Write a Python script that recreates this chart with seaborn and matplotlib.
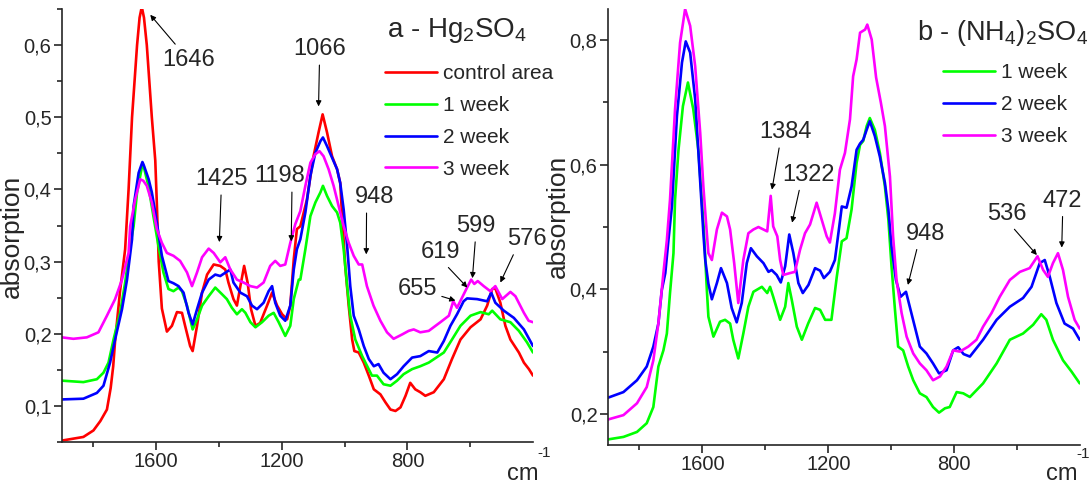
import matplotlib
matplotlib.use('Agg')
import pandas as pd
import seaborn as sns
import matplotlib.pyplot as plt
from matplotlib.ticker import FixedLocator, FuncFormatter

# ---- data (wavenumber cm-1, absorption) ----
a_control = [
    (1900, .052), (1832, .057), (1800, .066), (1778, .079), (1757, .095), (1745, .125),
    (1737, .155), (1731, .19), (1715, .26), (1699, .317), (1688, .40), (1677, .50),
    (1661, .60), (1653, .638), (1646, .653), (1639, .638), (1630, .60), (1614, .50),
    (1603, .44), (1598, .38), (1592, .30), (1582, .235), (1566, .203), (1550, .211),
    (1534, .23), (1518, .229), (1508, .211), (1492, .183), (1484, .176), (1470, .211),
    (1454, .257), (1438, .282), (1417, .296), (1396, .294), (1380, .289), (1370, .271),
    (1354, .248), (1343, .239), (1332, .266), (1320, .294), (1309, .271), (1298, .234),
    (1284, .211), (1269, .215), (1247, .239), (1231, .257), (1215, .239), (1199, .227),
    (1183, .22), (1173, .239), (1162, .303), (1152, .345), (1141, .349), (1120, .386),
    (1099, .446), (1083, .479), (1070, .504), (1056, .479), (1040, .446), (1024, .428),
    (1014, .409), (1008, .363), (998, .294), (987, .239), (976, .192), (969, .176),
    (955, .174), (939, .16), (923, .142), (907, .123), (886, .116), (870, .105),
    (854, .095), (838, .093), (822, .098), (806, .114), (791, .132), (775, .123),
    (759, .119), (743, .114), (716, .119), (684, .137), (658, .165), (631, .192),
    (599, .209), (567, .22), (546, .239), (530, .262), (520, .263), (504, .243),
    (488, .211), (472, .192), (445, .174), (429, .16), (413, .151), (400, .142),
]
a_week1 = [
    (1900, .135), (1832, .133), (1789, .137), (1768, .146), (1752, .16), (1736, .192),
    (1715, .229), (1699, .271), (1683, .322), (1672, .349), (1661, .396), (1646, .43),
    (1640, .432), (1625, .405), (1609, .363), (1593, .322), (1577, .285), (1561, .262),
    (1545, .259), (1529, .264), (1518, .259), (1502, .239), (1484, .206), (1470, .22),
    (1454, .239), (1433, .252), (1412, .264), (1391, .255), (1375, .248), (1359, .236),
    (1343, .227), (1327, .234), (1316, .229), (1300, .216), (1284, .209), (1263, .216),
    (1242, .225), (1226, .229), (1210, .216), (1189, .197), (1173, .211), (1162, .248),
    (1146, .275), (1141, .275), (1125, .317), (1109, .363), (1093, .382), (1077, .396),
    (1069, .405), (1056, .391), (1040, .377), (1024, .368), (1014, .354), (1003, .317),
    (992, .266), (982, .225), (966, .192), (944, .169), (928, .155), (913, .142),
    (897, .142), (876, .13), (854, .128), (833, .135), (812, .144), (785, .151),
    (759, .155), (732, .16), (684, .174), (658, .192), (631, .211), (599, .225),
    (567, .23), (541, .227), (530, .232), (504, .22), (472, .216), (445, .204),
    (419, .188), (400, .174),
]
a_week2 = [
    (1900, .109), (1832, .11), (1789, .118), (1768, .128), (1747, .16), (1731, .192),
    (1709, .234), (1693, .275), (1677, .331), (1672, .377), (1656, .423), (1644, .438),
    (1640, .434), (1624, .414), (1614, .396), (1603, .368), (1598, .354), (1582, .308),
    (1561, .273), (1545, .27), (1529, .266), (1513, .257), (1497, .229), (1484, .213),
    (1470, .234), (1454, .257), (1433, .275), (1412, .282), (1396, .28), (1375, .286),
    (1364, .289), (1354, .271), (1332, .257), (1311, .252), (1295, .239), (1279, .234),
    (1258, .243), (1242, .259), (1231, .266), (1221, .243), (1205, .225), (1189, .218),
    (1173, .239), (1162, .289), (1152, .317), (1141, .331), (1125, .368), (1109, .419),
    (1093, .451), (1077, .467), (1069, .472), (1056, .46), (1040, .444), (1024, .428),
    (1014, .409), (1003, .372), (992, .322), (982, .266), (971, .225), (955, .206),
    (939, .183), (923, .165), (907, .155), (892, .158), (876, .146), (854, .137),
    (833, .144), (812, .155), (785, .167), (759, .169), (732, .176), (705, .174),
    (684, .19), (663, .211), (642, .227), (621, .245), (610, .249), (578, .248),
    (546, .245), (533, .257), (520, .243), (493, .232), (461, .222), (429, .206),
    (400, .183),
]
a_week3 = [
    (1900, .195), (1864, .193), (1821, .195), (1784, .202), (1757, .225), (1731, .248),
    (1709, .275), (1688, .312), (1683, .349), (1667, .386), (1651, .414), (1641, .412),
    (1630, .405), (1614, .382), (1598, .345), (1582, .326), (1566, .312), (1545, .308),
    (1524, .301), (1502, .285), (1486, .266), (1470, .285), (1454, .306), (1433, .318),
    (1417, .312), (1396, .299), (1380, .306), (1364, .289), (1343, .275), (1322, .271),
    (1300, .266), (1279, .264), (1258, .271), (1237, .294), (1221, .301), (1205, .294),
    (1189, .296), (1173, .326), (1157, .352), (1141, .37), (1125, .405), (1109, .437),
    (1093, .449), (1080, .453), (1067, .446), (1051, .428), (1035, .405), (1019, .377),
    (1003, .349), (987, .326), (971, .308), (955, .296), (944, .296), (929, .266),
    (908, .239), (886, .218), (865, .202), (844, .193), (817, .199), (796, .204),
    (780, .206), (759, .202), (732, .204), (695, .216), (668, .225), (654, .245),
    (642, .236), (626, .25), (610, .264), (597, .275), (587, .269), (576, .273),
    (557, .266), (536, .259), (520, .266), (498, .248), (472, .258), (456, .252),
    (429, .229), (414, .218), (400, .216),
]

b_week1 = [
    (1900, .159), (1851, .163), (1808, .171), (1777, .185), (1756, .211), (1740, .276),
    (1724, .302), (1713, .329), (1703, .394), (1692, .458), (1687, .544), (1676, .624),
    (1662, .694), (1646, .732), (1629, .689), (1613, .624), (1602, .544), (1596, .50),
    (1586, .40), (1581, .356), (1565, .324), (1544, .348), (1528, .351), (1512, .345),
    (1502, .319), (1486, .289), (1470, .329), (1454, .372), (1438, .396), (1411, .404),
    (1394, .394), (1385, .404), (1375, .388), (1353, .351), (1337, .372), (1327, .41),
    (1316, .383), (1300, .34), (1284, .319), (1264, .345), (1242, .37), (1226, .367),
    (1210, .351), (1190, .351), (1173, .42), (1157, .477), (1142, .482), (1126, .528),
    (1110, .603), (1099, .632), (1089, .638), (1078, .662), (1068, .675), (1052, .656),
    (1036, .619), (1020, .565), (1009, .512), (999, .437), (988, .367), (978, .308),
    (962, .302), (946, .276), (930, .254), (909, .233), (888, .227), (867, .211),
    (848, .202), (829, .209), (814, .211), (792, .235), (771, .233), (750, .227),
    (708, .249), (665, .281), (623, .319), (581, .329), (549, .343), (523, .36),
    (507, .351), (486, .319), (454, .286), (427, .268), (401, .249),
]
b_week2 = [
    (1900, .226), (1851, .235), (1808, .254), (1777, .276), (1756, .308), (1740, .345),
    (1729, .399), (1718, .426), (1708, .479), (1697, .533), (1681, .678), (1665, .764),
    (1653, .798), (1639, .78), (1623, .705), (1610, .597), (1597, .49), (1591, .447),
    (1581, .409), (1570, .384), (1554, .41), (1541, .434), (1522, .41), (1507, .37),
    (1491, .347), (1475, .378), (1459, .442), (1446, .466), (1427, .453), (1406, .442),
    (1390, .428), (1380, .431), (1364, .423), (1351, .411), (1337, .437), (1324, .488),
    (1311, .458), (1295, .41), (1281, .394), (1263, .407), (1242, .434), (1226, .43),
    (1214, .418), (1195, .428), (1179, .447), (1165, .501), (1157, .533), (1142, .531),
    (1126, .565), (1110, .624), (1099, .634), (1089, .64), (1078, .656), (1068, .67),
    (1052, .646), (1036, .613), (1020, .571), (1009, .528), (999, .469), (985, .415),
    (970, .388), (953, .396), (941, .372), (925, .34), (909, .308), (888, .297),
    (867, .281), (848, .265), (824, .27), (803, .302), (787, .307), (770, .296),
    (750, .292), (708, .319), (665, .351), (623, .372), (581, .386), (554, .404),
    (528, .442), (512, .447), (496, .42), (475, .378), (449, .345), (422, .337),
    (401, .319),
]
b_week3 = [
    (1900, .191), (1851, .198), (1808, .217), (1777, .243), (1756, .286), (1740, .345),
    (1724, .426), (1713, .479), (1703, .544), (1687, .689), (1671, .796), (1655, .85),
    (1639, .823), (1623, .758), (1607, .651), (1597, .565), (1586, .49), (1581, .458),
    (1570, .447), (1554, .496), (1538, .523), (1522, .517), (1512, .496), (1499, .442),
    (1486, .378), (1470, .447), (1454, .49), (1438, .496), (1422, .5), (1406, .496),
    (1394, .493), (1383, .55), (1375, .501), (1362, .485), (1353, .447), (1343, .423),
    (1322, .426), (1306, .428), (1290, .463), (1274, .49), (1258, .504), (1237, .539),
    (1221, .512), (1205, .485), (1195, .475), (1179, .522), (1163, .592), (1147, .619),
    (1131, .673), (1121, .742), (1110, .769), (1099, .812), (1083, .817), (1076, .825),
    (1062, .801), (1048, .74), (1033, .70), (1020, .662), (1004, .581), (994, .485),
    (983, .415), (967, .362), (951, .324), (930, .297), (909, .281), (888, .27),
    (867, .254), (845, .26), (824, .276), (803, .302), (782, .3), (755, .308),
    (729, .319), (708, .34), (681, .362), (655, .388), (623, .415), (591, .428),
    (560, .434), (535, .453), (517, .431), (502, .42), (486, .442), (470, .458),
    (454, .431), (438, .388), (417, .351), (401, .337),
]

labels_a = ['control area', '1 week', '2 week', '3 week']
labels_b = ['1 week', '2 week', '3 week']
colors = {'control area': '#ff0000', '1 week': '#00ff00',
          '2 week': '#0000ff', '3 week': '#ff00ff'}

# peak labels: (text, text position, arrow tip, relpos of arrow start)
peaks_a = [
    ('1646', (1498, .580), (1619, .642), (0.5, 0.5)),
    ('1066', (1080, .594), (1083, .515), (0.5, 0.0)),
    ('1425', (1393, .414), (1399, .327), (0.5, 0.0)),
    ('1198', (1208, .418), (1170, .328), (0.75, 0.0)),
    ('948', (905, .389), (931, .310), (0.3, 0.0)),
    ('655', (768, .262), (647, .246), (0.5, 0.5)),
    ('619', (695, .313), (609, .264), (0.6, 0.0)),
    ('599', (583, .349), (593, .277), (0.5, 0.0)),
    ('576', (418, .331), (504, .271), (0.2, 0.0)),
]
peaks_b = [
    ('1384', (1337, .652), (1379, .560), (0.4, 0.0)),
    ('1322', (1264, .584), (1315, .507), (0.35, 0.0)),
    ('948', (890, .489), (947, .407), (0.3, 0.0)),
    ('536', (633, .521), (537, .455), (0.6, 0.0)),
    ('472', (455, .542), (458, .467), (0.5, 0.0)),
]


def to_frame(series, names):
    rows = []
    for name, pts in zip(names, series):
        for wn, val in pts:
            rows.append({'wn': wn, 'absorption': val, 'series': name})
    return pd.DataFrame(rows)


def comma(v, pos):
    return f'{v:.1f}'.replace('.', ',')


def style_axis(ax, ylim, yticks, yminor, label_y, cm_pos):
    ax.set_xlim(1900, 400)
    ax.set_ylim(*ylim)
    ax.xaxis.set_major_locator(FixedLocator([1600, 1200, 800]))
    ax.xaxis.set_minor_locator(FixedLocator([1800, 1400, 1000, 600]))
    ax.yaxis.set_major_locator(FixedLocator(yticks))
    ax.yaxis.set_minor_locator(FixedLocator(yminor))
    ax.yaxis.set_major_formatter(FuncFormatter(comma))
    ax.xaxis.set_major_formatter(FuncFormatter(lambda v, p: f'{v:.0f}'))
    ax.tick_params(which='major', direction='out', length=6, width=1.2,
                   labelsize=14.5, pad=1.5)
    ax.tick_params(which='minor', direction='out', length=3.5, width=1.2)
    for side in ('top', 'right'):
        ax.spines[side].set_visible(False)
    for side in ('left', 'bottom'):
        ax.spines[side].set_linewidth(1.2)
    ax.set_xlabel('')
    ax.set_ylabel('absorption', fontsize=19)
    ax.yaxis.set_label_coords(-0.081, label_y)
    (cx, cy), (sx, sy) = cm_pos
    ax.text(cx, cy, 'cm', transform=ax.transAxes, fontsize=17,
            ha='left', va='baseline')
    ax.text(sx, sy, '-1', transform=ax.transAxes, fontsize=11,
            ha='left', va='baseline')


def add_peaks(ax, peaks):
    for txt, xyt, xy, rel in peaks:
        ax.annotate(txt, xy=xy, xytext=xyt, fontsize=17, ha='center', va='center',
                    arrowprops=dict(arrowstyle='-|>', color='black', lw=0.8,
                                    mutation_scale=8, shrinkA=1, shrinkB=0,
                                    relpos=rel))


sns.set_theme(style='ticks')
plt.rcParams['font.family'] = ['Liberation Sans', 'DejaVu Sans']
plt.rcParams['mathtext.fontset'] = 'custom'
plt.rcParams['mathtext.rm'] = 'Liberation Sans'
plt.rcParams['mathtext.it'] = 'Liberation Sans'

fig = plt.figure(figsize=(10.92, 4.87), dpi=100)
ax1 = fig.add_axes([0.0568, 0.0924, 0.4313, 0.8891])
ax2 = fig.add_axes([0.5568, 0.0862, 0.4322, 0.8953])

df_a = to_frame([a_control, a_week1, a_week2, a_week3], labels_a)
df_b = to_frame([b_week1, b_week2, b_week3], labels_b)

sns.lineplot(data=df_a, x='wn', y='absorption', hue='series', hue_order=labels_a,
             palette=colors, estimator=None, linewidth=1.9, ax=ax1)
sns.lineplot(data=df_b, x='wn', y='absorption', hue='series', hue_order=labels_b,
             palette=colors, estimator=None, linewidth=1.9, ax=ax2)

style_axis(ax1, (0.05, 0.65), [0.1, 0.2, 0.3, 0.4, 0.5, 0.6],
           [0.05, 0.15, 0.25, 0.35, 0.45, 0.55, 0.65], 0.476,
           ((0.945, -0.088), (1.010, -0.035)))
style_axis(ax2, (0.15, 0.85), [0.2, 0.4, 0.6, 0.8], [0.3, 0.5, 0.7], 0.525,
           ((0.928, -0.080), (0.993, -0.030)))

for ax, anchor in ((ax1, (0.686, 0.873)), (ax2, (0.710, 0.876))):
    ax.legend(loc='upper left', bbox_to_anchor=anchor, frameon=False, fontsize=15,
              handlelength=2.5, handletextpad=0.3, labelspacing=0.62,
              borderpad=0, borderaxespad=0)

ax1.text(0.690, 0.935, r'a - Hg$_{\mathregular{2}}$SO$_{\mathregular{4}}$',
         transform=ax1.transAxes, fontsize=20, va='baseline', ha='left')
ax2.text(0.655, 0.929, r'b - (NH$_{\mathregular{4}}$)$_{\mathregular{2}}$SO$_{\mathregular{4}}$',
         transform=ax2.transAxes, fontsize=19.5, va='baseline', ha='left')

add_peaks(ax1, peaks_a)
add_peaks(ax2, peaks_b)

fig.savefig('out.png', dpi=100)
